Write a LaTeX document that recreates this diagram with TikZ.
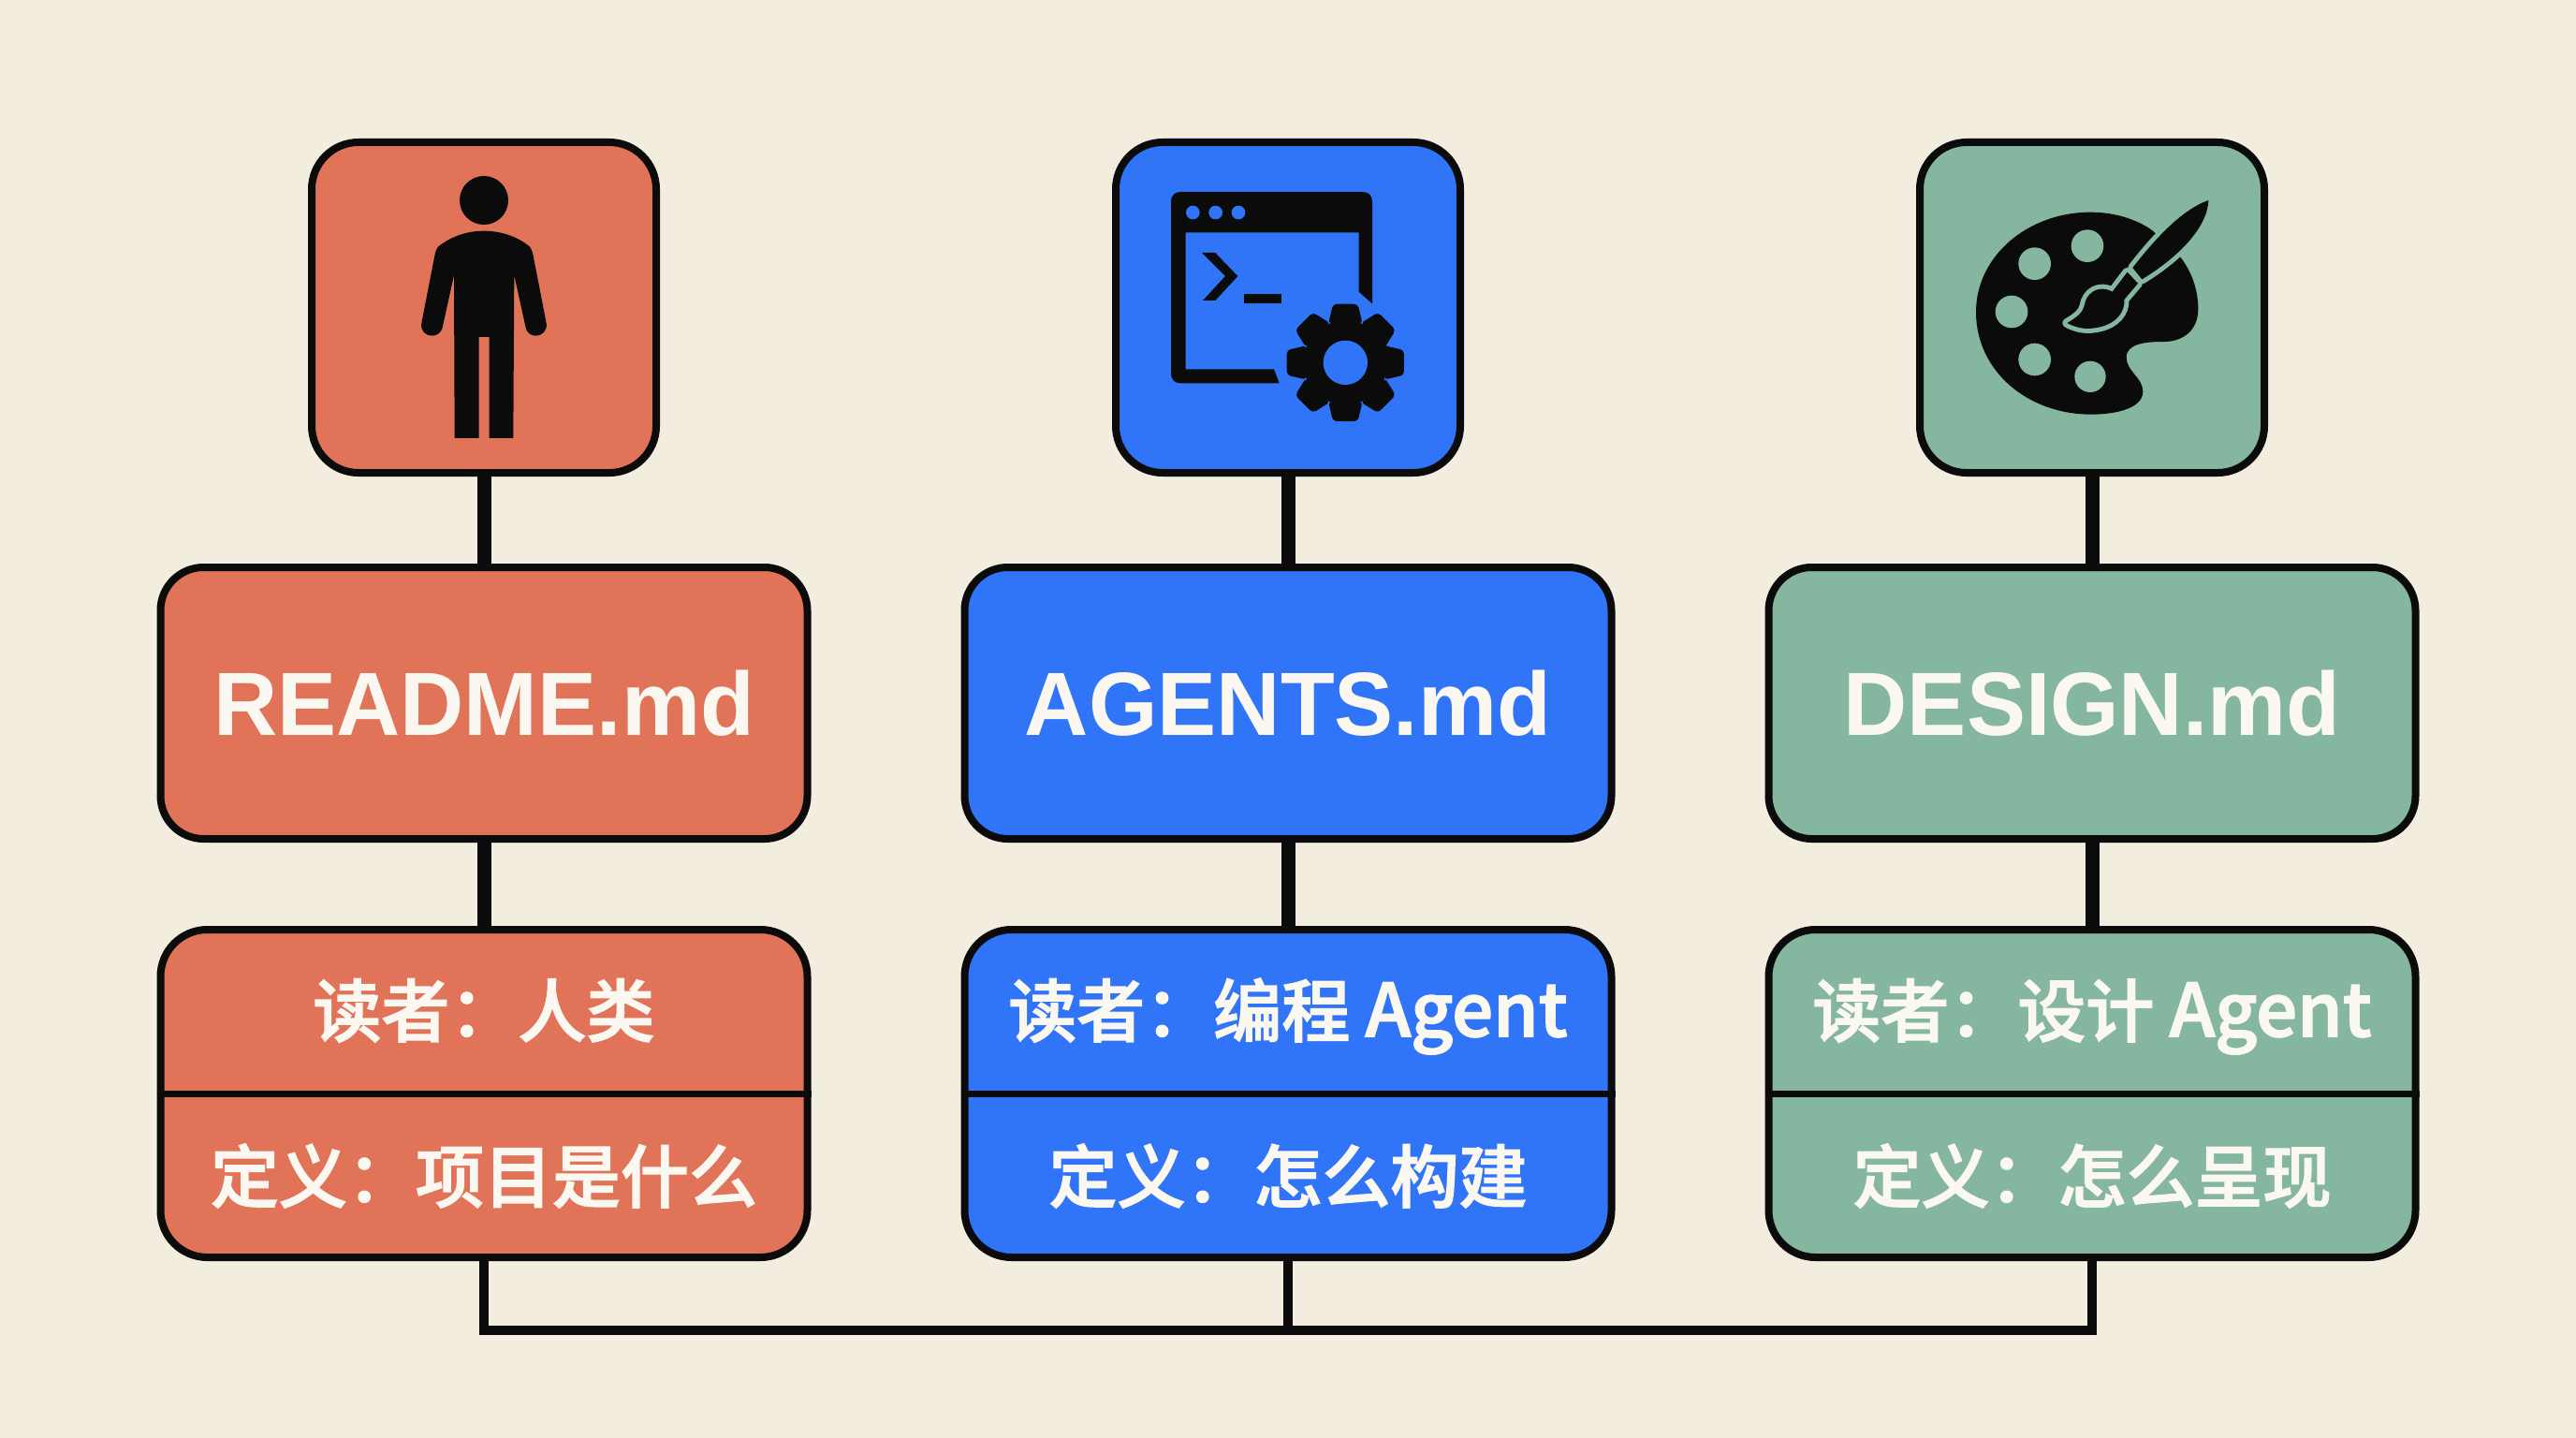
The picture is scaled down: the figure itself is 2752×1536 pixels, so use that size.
\documentclass[tikz,border=0pt]{standalone}
\usepackage{fontspec}
\setmainfont{Liberation Sans}
\newfontfamily\cjksc[FakeBold=2]{Noto Sans CJK SC Medium}
\newcommand{\fwcolon}{\symbol{"FF1A}}
\newcommand{\agentword}{{\fontsize{78}{80}\selectfont Agent}}
\definecolor{bgcol}{HTML}{F3EDDF}
\definecolor{redcol}{HTML}{E07358}
\definecolor{bluecol}{HTML}{3074F8}
\definecolor{greencol}{HTML}{85B69F}
\definecolor{inkcol}{HTML}{0B0B0B}
\definecolor{txtcol}{HTML}{FBF8F2}
\tikzset{
  iconbox/.style={draw=inkcol,line width=8pt,rounded corners=50pt,minimum width=368pt,minimum height=353pt,inner sep=0pt},
  namebox/.style={draw=inkcol,line width=8pt,rounded corners=46pt,minimum width=691pt,minimum height=290pt,inner sep=0pt},
  infobox/.style={draw=inkcol,line width=8pt,rounded corners=50pt,minimum width=691pt,minimum height=350pt,inner sep=0pt},
  stem/.style={draw=inkcol,line width=15pt},
  link/.style={draw=inkcol,line width=10pt,line join=miter},
  divider/.style={draw=inkcol,line width=7pt},
  nametext/.style={text=txtcol,font=\fontsize{96}{100}\selectfont\bfseries,anchor=base,inner sep=0pt,xscale=0.985},
  infotext/.style={text=txtcol,font=\fontsize{73}{80}\selectfont\cjksc,anchor=base,inner sep=0pt},
  zoomed/.style={x=1pt/3,y=-1pt/3}
}
\begin{document}
\begin{tikzpicture}[x=1pt,y=-1pt]
\fill[bgcol] (0,0) rectangle (2752,1536);
\useasboundingbox (0,0) rectangle (2752,1536);

% boxes
\node[iconbox,fill=redcol]   (icon1) at (517,328.5) {};
\node[iconbox,fill=bluecol]  (icon2) at (1376,328.5) {};
\node[iconbox,fill=greencol] (icon3) at (2235,328.5) {};
\node[namebox,fill=redcol]   (name1) at (517,751) {};
\node[namebox,fill=bluecol]  (name2) at (1376,751) {};
\node[namebox,fill=greencol] (name3) at (2235,751) {};
\node[infobox,fill=redcol]   (info1) at (517,1168) {};
\node[infobox,fill=bluecol]  (info2) at (1376,1168) {};
\node[infobox,fill=greencol] (info3) at (2235,1168) {};

% dividers
\foreach \i in {1,2,3} \draw[divider] (info\i.west) -- (info\i.east);

% connectors
\foreach \i in {1,2,3} {
  \draw[stem] (icon\i.south) -- (name\i.north);
  \draw[stem] (name\i.south) -- (info\i.north);
  \coordinate (bus\i) at (info\i.south |- 0,1421);
}
\draw[link] (info1.south) -- (bus1) -- (bus3) -- (info3.south);
\draw[link] (info2.south) -- (bus2);

% labels
\node[nametext] (t1) at (517,785) {README.md};
\node[nametext] (t2) at (1376,785) {AGENTS.md};
\node[nametext] (t3) at (2235,785) {DESIGN.md};
\node[infotext] (r1) at (517,1107) {读者\fwcolon 人类};
\node[infotext] (r2) at (1376,1107) {读者\fwcolon 编程 \agentword};
\node[infotext] (r3) at (2235,1107) {读者\fwcolon 设计 \agentword};
\node[infotext] (d1) at (517,1284) {定义\fwcolon 项目是什么};
\node[infotext] (d2) at (1376,1284) {定义\fwcolon 怎么构建};
\node[infotext] (d3) at (2235,1284) {定义\fwcolon 怎么呈现};

% person icon
\begin{scope}[shift={(300,130)},zoomed]
\fill[inkcol] (651,252) circle (78);
\fill[inkcol] (505,400) .. controls (550,365) and (600,350) .. (651,350)
  .. controls (700,350) and (755,365) .. (797,400)
  .. controls (806,410) and (808,425) .. (811,440)
  -- (851,645) .. controls (856,670) and (835,686) .. (818,686)
  .. controls (800,686) and (788,675) .. (785,660)
  -- (748,492) -- (745,1014) -- (668,1014) -- (668,690) -- (635,690) -- (635,1014) -- (557,1014) -- (555,492)
  -- (518,660) .. controls (514,675) and (502,686) .. (484,686)
  .. controls (465,686) and (446,670) .. (451,645)
  -- (491,440) .. controls (494,425) and (496,410) .. (505,400) -- cycle;
\end{scope}

% terminal + gear icon
\begin{scope}[shift={(1170,130)},zoomed]
\fill[inkcol] (590,838) -- (273,838) .. controls (255,838) and (243,826) .. (243,808)
  -- (243,255) .. controls (243,237) and (255,225) .. (273,225)
  -- (858,225) .. controls (876,225) and (888,237) .. (888,255)
  -- (888,583) -- (845,545) -- (845,355) -- (290,355) -- (290,793) -- (573,793) -- cycle;
\foreach \cx in {313,386,459} \fill[bluecol] (\cx,291) circle (22);
\fill[inkcol] (342,420) -- (385,420) -- (457,495) -- (385,573) -- (345,573) -- (417,495) -- cycle;
\fill[inkcol] (478,552) rectangle (598,583);
\begin{scope}[shift={(802,772)}]
\fill[inkcol,rounded corners=4pt] (-24:135)
  \foreach \a in {0,45,...,315} { -- ({\a-24}:135) -- ({\a-12}:192) -- ({\a+12}:192) -- ({\a+24}:135) } -- cycle;
\fill[bluecol] (0,0) circle (71);
\end{scope}
\end{scope}

% palette icon
\begin{scope}[shift={(2030,130)},zoomed]
\fill[inkcol] (610,290) .. controls (700,290) and (770,320) .. (810,350)
  -- (895,430) .. controls (935,480) and (955,540) .. (955,600)
  .. controls (955,670) and (905,705) .. (845,705)
  .. controls (790,705) and (725,710) .. (725,755)
  .. controls (725,800) and (778,820) .. (778,865)
  .. controls (778,915) and (700,938) .. (612,938)
  .. controls (410,938) and (243,800) .. (243,610)
  .. controls (243,430) and (410,290) .. (610,290) -- cycle;
\foreach \cx/\cy/\r in {600/398/52,431/455/52,357/609/52,431/762/52,609/817/50} \fill[greencol] (\cx,\cy) circle (\r);
% brush halo
\begin{scope}[draw=greencol,line width=10pt,line join=round,fill=greencol]
\filldraw (988,252) .. controls (920,275) and (840,345) .. (745,468) -- (775,505)
  .. controls (890,435) and (985,340) .. (988,252) -- cycle;
\filldraw (728,482) -- (762,518) -- (718,570) .. controls (722,610) and (690,650) .. (630,660)
  .. controls (590,668) and (560,658) .. (535,645)
  .. controls (570,625) and (585,610) .. (590,590)
  .. controls (595,550) and (635,520) .. (680,545) -- cycle;
\end{scope}
% brush
\fill[inkcol] (988,252) .. controls (920,275) and (840,345) .. (745,468) -- (775,505)
  .. controls (890,435) and (985,340) .. (988,252) -- cycle;
\fill[inkcol] (728,482) -- (762,518) -- (718,570) .. controls (722,610) and (690,650) .. (630,660)
  .. controls (590,668) and (560,658) .. (535,645)
  .. controls (570,625) and (585,610) .. (590,590)
  .. controls (595,550) and (635,520) .. (680,545) -- cycle;
\end{scope}
\end{tikzpicture}
\end{document}
